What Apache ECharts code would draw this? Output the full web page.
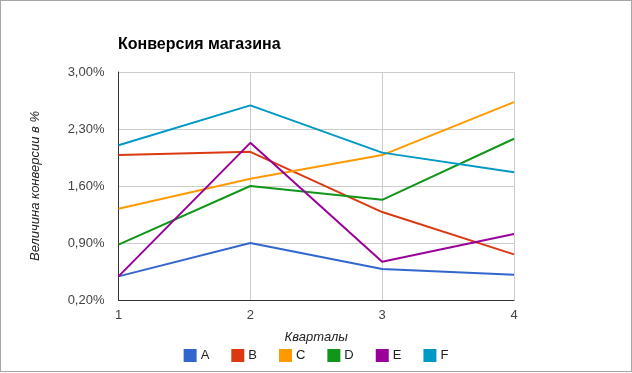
<!DOCTYPE html>
<html><head><meta charset="utf-8">
<script src="https://cdn.jsdelivr.net/npm/echarts@6/dist/echarts.min.js"></script>
<style>
html,body{margin:0;padding:0;background:#fff;}
#wrap{position:absolute;left:0;top:0;width:632px;height:372px;border:1px solid #a6a6a6;box-sizing:border-box;}
#chart{position:absolute;left:0;top:0;width:632px;height:373px;}
</style></head>
<body>
<div id="chart"></div>
<div id="wrap"></div>
<script>
const categories = ['1', '2', '3', '4'];
const seriesNames = ['A', 'B', 'C', 'D', 'E', 'F'];
const A = [0.49, 0.90, 0.58, 0.51];
const B = [1.98, 2.02, 1.28, 0.76];
const C = [1.32, 1.69, 1.98, 2.63];
const D = [0.88, 1.60, 1.43, 2.18];
const E = [0.49, 2.13, 0.67, 1.01];
const F = [2.10, 2.59, 2.01, 1.77];
const values = [A, B, C, D, E, F];
const colors = ['#3366cc', '#dc3912', '#ff9900', '#109618', '#990099', '#0099c6'];
const yTicks = { min: 0.2, max: 3.0, step: 0.7 };

const font = '"Liberation Sans", Arial, sans-serif';
const chart = echarts.init(document.getElementById('chart'), null, { renderer: 'canvas' });
chart.setOption({
  animation: false,
  color: colors,
  textStyle: { fontFamily: font },
  title: {
    text: 'Конверсия магазина',
    left: 113, top: 32,
    textStyle: { fontFamily: font, fontSize: 16, fontWeight: 'bold', color: '#000' }
  },
  legend: {
    bottom: 6, left: 'center',
    itemWidth: 13, itemHeight: 13, itemGap: 22,
    icon: 'rect',
    textStyle: { fontFamily: font, fontSize: 13, color: '#222', padding: [0, 0, 0, -1] },
    data: seriesNames
  },
  grid: { left: 118.5, right: 118, top: 72, bottom: 73, containLabel: false },
  xAxis: {
    type: 'category',
    data: categories,
    boundaryGap: false,
    name: 'Кварталы',
    nameLocation: 'middle',
    nameGap: 31,
    nameTextStyle: { fontFamily: font, fontSize: 13, fontStyle: 'italic', color: '#222' },
    axisLine: { lineStyle: { color: '#333', width: 1 } },
    axisTick: { show: false },
    axisLabel: { fontFamily: font, fontSize: 13, color: '#444', margin: 9 },
    splitLine: { show: true, lineStyle: { color: '#cccccc', width: 1 } }
  },
  yAxis: {
    type: 'value',
    min: yTicks.min, max: yTicks.max, interval: yTicks.step,
    name: 'Величина конверсии в %',
    nameLocation: 'middle',
    nameGap: 77,
    nameRotate: 90,
    nameTextStyle: { fontFamily: font, fontSize: 13, fontStyle: 'italic', color: '#222' },
    axisLine: { show: true, lineStyle: { color: '#333', width: 1 } },
    axisTick: { show: false },
    axisLabel: {
      fontFamily: font, fontSize: 13, color: '#444', margin: 14,
      formatter: v => v.toFixed(2).replace('.', ',') + '%'
    },
    splitLine: { show: true, lineStyle: { color: '#cccccc', width: 1 } }
  },
  series: seriesNames.map((n, i) => ({
    name: n,
    type: 'line',
    data: values[i],
    showSymbol: false,
    symbol: 'none',
    lineStyle: { width: 2 },
    z: 3
  }))
});
</script>
</body></html>
